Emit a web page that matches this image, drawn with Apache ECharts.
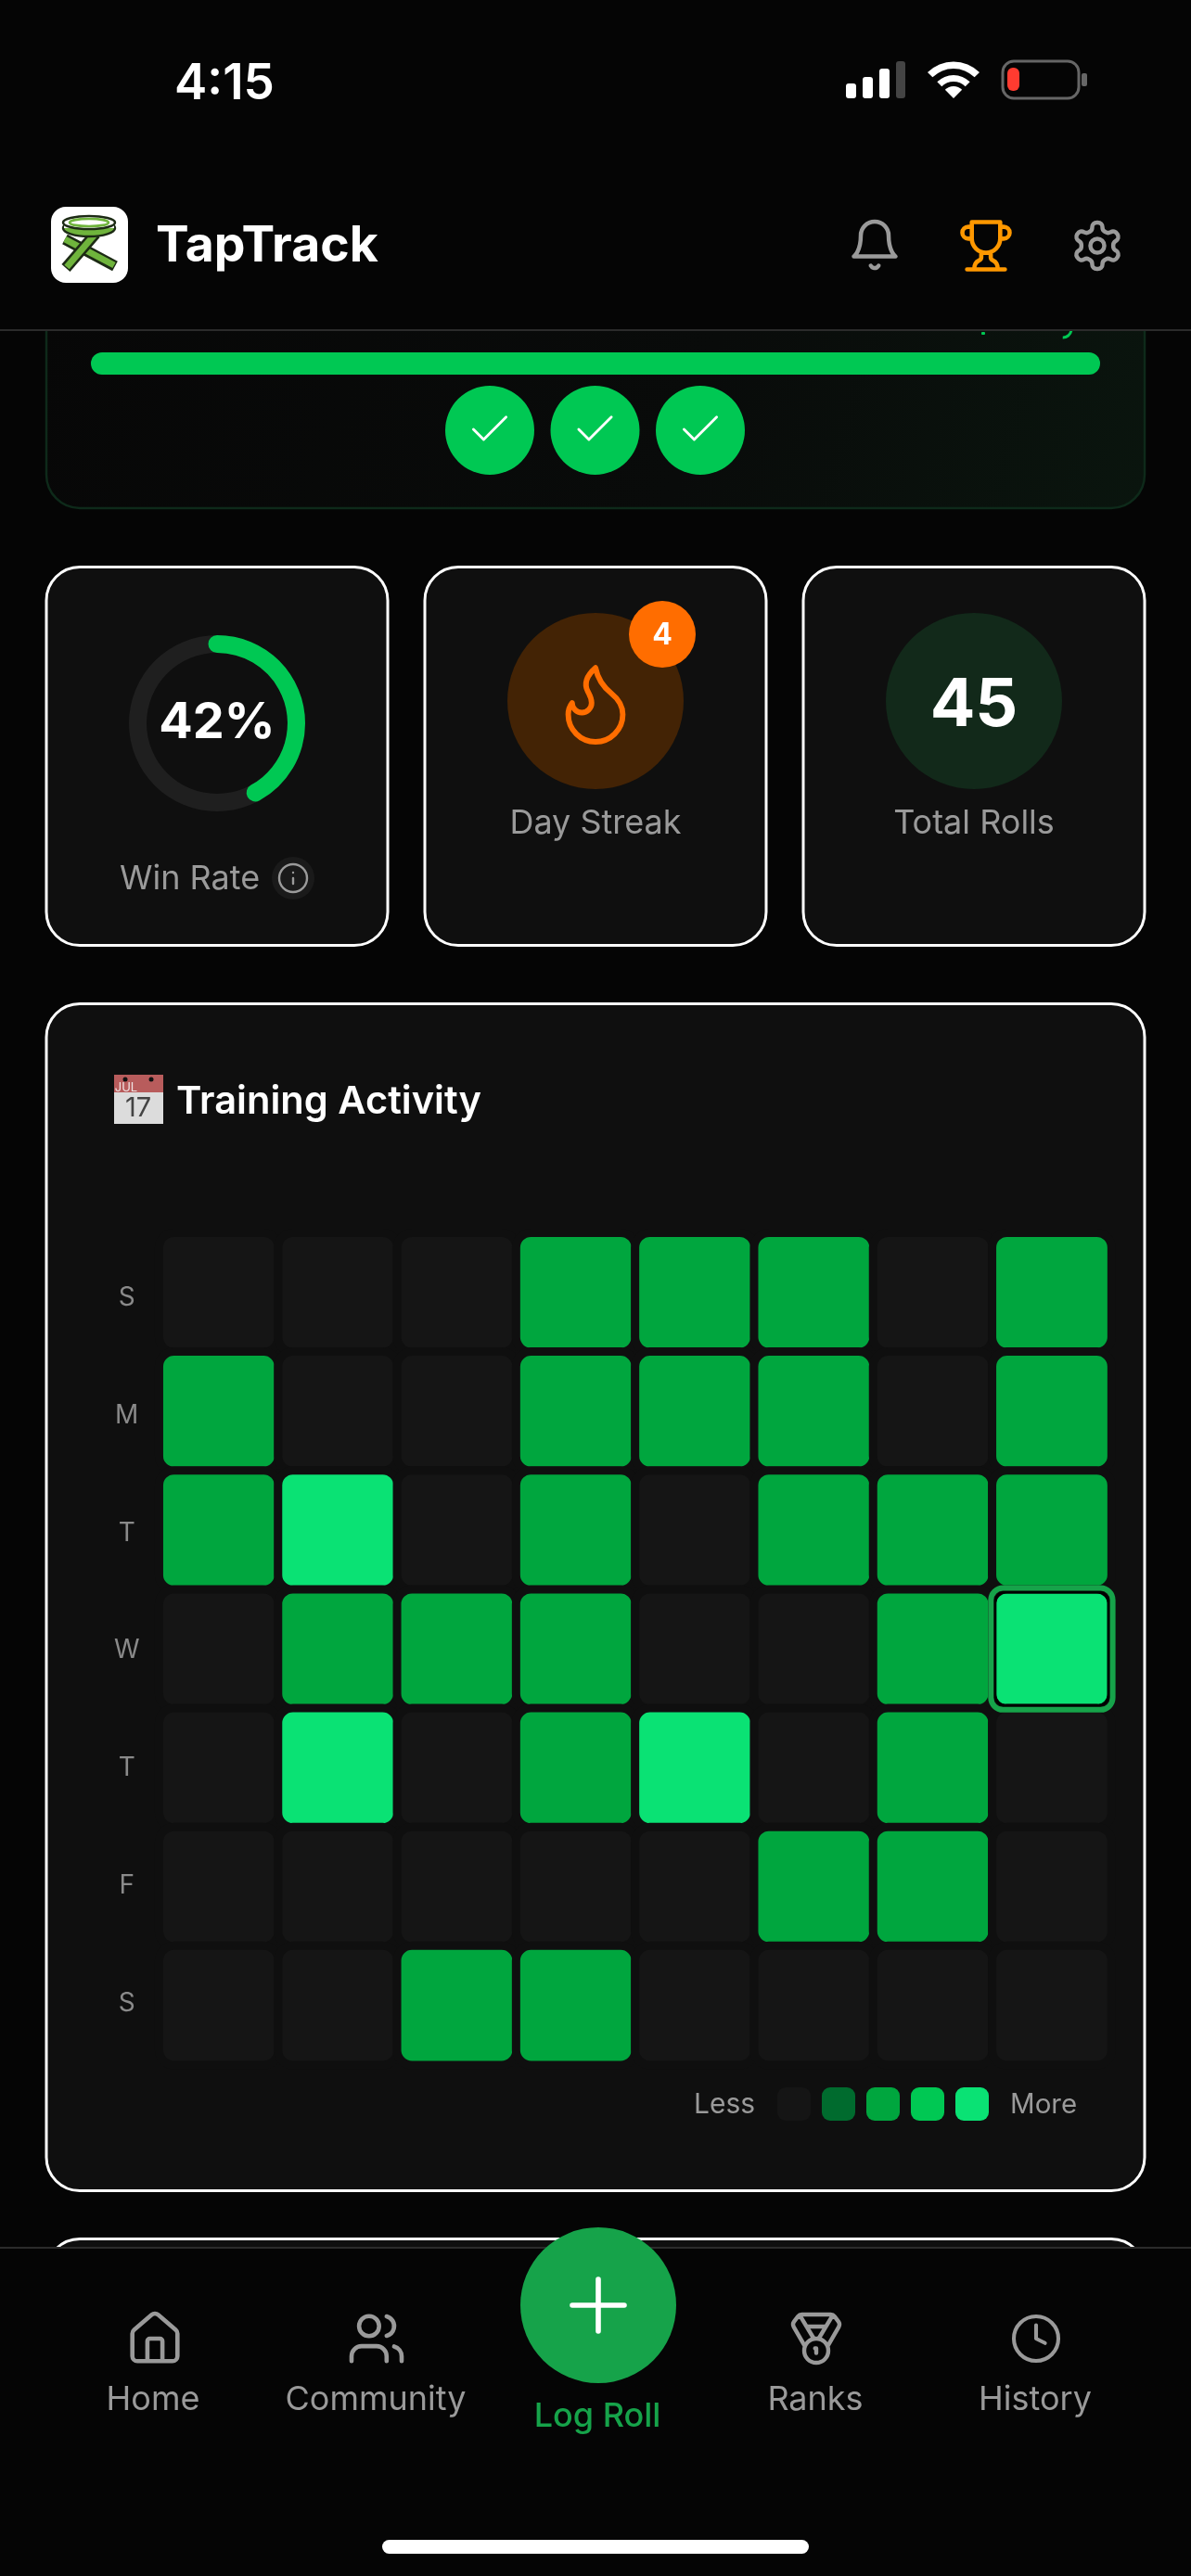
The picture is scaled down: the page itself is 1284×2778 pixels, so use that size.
<!DOCTYPE html>
<html>
<head>
<meta charset="utf-8">
<title>TapTrack</title>
<script src="https://cdn.jsdelivr.net/npm/echarts@6/dist/echarts.min.js"></script>
<style>
html, body { margin: 0; padding: 0; background: #050505; }
#main { width: 1284px; height: 2778px; }
</style>
</head>
<body>
<div id="main"></div>
<script>
// chart data
var dayLabels = ['S', 'M', 'T', 'W', 'T', 'F', 'S'];
var weekLabels = ['W1', 'W2', 'W3', 'W4', 'W5', 'W6', 'W7', 'W8'];
var rowSun1 = [0, 0, 0, 2, 2, 2, 0, 2];
var rowMon = [2, 0, 0, 2, 2, 2, 0, 2];
var rowTue = [2, 4, 0, 2, 0, 2, 2, 2];
var rowWed = [0, 2, 2, 2, 0, 0, 2, 4];
var rowThu = [0, 4, 0, 2, 4, 0, 2, 0];
var rowFri = [0, 0, 0, 0, 0, 2, 2, 0];
var rowSat = [0, 0, 2, 2, 0, 0, 0, 0];
var activityRows = [rowSun1, rowMon, rowTue, rowWed, rowThu, rowFri, rowSat];
var levelColors = ['#151515', '#006b2e', '#00a63e', '#00c853', '#0ae274'];
var todayCell = [7, 3];
var winRate = 42;
var dayStreak = 4;
var totalRolls = 45;
var checkCount = 3;
var navLabels = ['Home', 'Community', 'Ranks', 'History'];

var GREY = '#9a9a9a';
var FONT = 'Inter, sans-serif';

// lucide style icons, 24x24 box
var iconPaths = {
    bell: 'M6 8a6 6 0 0 1 12 0c0 7 3 9 3 9H3s3-2 3-9M10.3 21a1.94 1.94 0 0 0 3.4 0',
    trophy: 'M6 9H4.5a2.5 2.5 0 0 1 0-5H6M18 9h1.5a2.5 2.5 0 0 0 0-5H18M4 22h16M10 14.66V17c0 .55-.47.98-.97 1.21C7.85 18.75 7 20.24 7 22M14 14.66V17c0 .55.47.98.97 1.21C16.15 18.75 17 20.24 17 22M18 2H6v7a6 6 0 0 0 12 0V2Z',
    gear: 'M12.22 2h-.44a2 2 0 0 0-2 2v.18a2 2 0 0 1-1 1.73l-.43.25a2 2 0 0 1-2 0l-.15-.08a2 2 0 0 0-2.73.73l-.22.38a2 2 0 0 0 .73 2.73l.15.1a2 2 0 0 1 1 1.72v.51a2 2 0 0 1-1 1.74l-.15.09a2 2 0 0 0-.73 2.73l.22.38a2 2 0 0 0 2.73.73l.15-.08a2 2 0 0 1 2 0l.43.25a2 2 0 0 1 1 1.73V20a2 2 0 0 0 2 2h.44a2 2 0 0 0 2-2v-.18a2 2 0 0 1 1-1.73l.43-.25a2 2 0 0 1 2 0l.15.08a2 2 0 0 0 2.73-.73l.22-.39a2 2 0 0 0-.73-2.73l-.15-.08a2 2 0 0 1-1-1.74v-.5a2 2 0 0 1 1-1.74l.15-.09a2 2 0 0 0 .73-2.73l-.22-.38a2 2 0 0 0-2.73-.73l-.15.08a2 2 0 0 1-2 0l-.43-.25a2 2 0 0 1-1-1.73V4a2 2 0 0 0-2-2zM15 12a3 3 0 1 1-6 0a3 3 0 1 1 6 0z',
    flame: 'M8.5 14.5A2.5 2.5 0 0 0 11 12c0-1.38-.5-2-1-3-1.072-2.143-.224-4.054 2-6 .5 2.5 2 4.9 4 6.5 2 1.6 3 3.5 3 5.5a7 7 0 1 1-14 0c0-1.153.433-2.294 1-3a2.5 2.5 0 0 0 2.5 2.5z',
    home: 'M15 21v-8a1 1 0 0 0-1-1h-4a1 1 0 0 0-1 1v8M3 10a2 2 0 0 1 .709-1.528l7-5.999a2 2 0 0 1 2.582 0l7 5.999A2 2 0 0 1 21 10v9a2 2 0 0 1-2 2H5a2 2 0 0 1-2-2z',
    users: 'M16 21v-2a4 4 0 0 0-4-4H6a4 4 0 0 0-4 4v2M13 7a4 4 0 1 1-8 0a4 4 0 1 1 8 0zM22 21v-2a4 4 0 0 0-3-3.87M16 3.13a4 4 0 0 1 0 7.75',
    medal: 'M7.21 15 2.66 7.14a2 2 0 0 1 .13-2.2L4.4 2.8A2 2 0 0 1 6 2h12a2 2 0 0 1 1.6.8l1.6 2.14a2 2 0 0 1 .14 2.2L16.79 15M11 12 5.12 2.2M13 12l5.88-9.8M8 7h8M17 17a5 5 0 1 1-10 0a5 5 0 1 1 10 0zM12 18v-2h-.5',
    clock: 'M22 12a10 10 0 1 1-20 0a10 10 0 1 1 20 0zM12 6v6l4 2',
    info: 'M22 12a10 10 0 1 1-20 0a10 10 0 1 1 20 0zM12 16v-4M12 8h.01',
    check: 'M20 6 9 17l-5-5',
    plus: 'M5 12h14M12 5v14'
};
for (var name in iconPaths) {
    echarts.graphic.registerShape('icon_' + name, echarts.graphic.extendPath(iconPaths[name], {}));
}

function rr(x, y, w, h, r, fill, stroke, lw) {
    return { type: 'rect', shape: { x: x, y: y, width: w, height: h, r: r }, style: { fill: fill || 'none', stroke: stroke || null, lineWidth: lw || 0 }, silent: true };
}
function circle(cx, cy, r, fill) {
    return { type: 'circle', shape: { cx: cx, cy: cy, r: r }, style: { fill: fill }, silent: true };
}
function txt(x, y, s, size, weight, color, align) {
    return { type: 'text', x: x, y: y, silent: true, style: { text: s, fill: color, font: weight + ' ' + size + 'px ' + FONT, align: align || 'center', verticalAlign: 'middle' } };
}
function icon(name, cx, cy, scale, color, lw) {
    return {
        type: 'icon_' + name, x: cx - 12 * scale, y: cy - 12 * scale, scaleX: scale, scaleY: scale, silent: true,
        style: { fill: 'none', stroke: color, lineWidth: lw, lineCap: 'round', lineJoin: 'round' }
    };
}
function line(x1, y1, x2, y2, color, lw) {
    return { type: 'line', shape: { x1: x1, y1: y1, x2: x2, y2: y2 }, style: { stroke: color, lineWidth: lw, lineCap: 'butt' }, silent: true };
}
function wifiBand(r0, r) {
    return { type: 'sector', shape: { cx: 1028, cy: 106, r0: r0, r: r, startAngle: -Math.PI * 0.75, endAngle: -Math.PI * 0.25 }, style: { fill: '#fff' }, silent: true };
}

function cards() {
    var g = [];
    // goal card, its top is hidden under the header
    g.push(rr(50, 200, 1184, 348, 36, new echarts.graphic.LinearGradient(0, 0, 1, 1, [
        { offset: 0, color: '#070707' }, { offset: 0.6, color: '#090b0a' }, { offset: 1, color: '#0a150e' }
    ]), '#0e2a1a', 2.5));
    g.push(rr(98, 380, 1088, 24, 12, '#00c853'));
    // clipped descenders of the line above the bar
    g.push(rr(1058, 358, 4, 3, 1, '#00c853'));
    g.push({ type: 'arc', shape: { cx: 1146, cy: 355, r: 9, startAngle: 0.2, endAngle: 1.6, clockwise: true }, style: { stroke: '#00c853', fill: 'none', lineWidth: 3 }, silent: true });
    for (var i = 0; i < checkCount; i++) {
        var cx = 528 + i * 113.5;
        g.push(circle(cx, 464, 48, '#00c853'));
        g.push(icon('check', cx, 463, 2.2, '#fff', 1.3));
    }
    // stat cards
    [50, 458, 866].forEach(function (x) {
        g.push(rr(x, 611.5, 368, 408, 36, '#0f0f0f', '#fff', 3));
    });
    g.push(txt(129, 948, 'Win Rate', 36, 400, GREY, 'left'));
    g.push(circle(316, 947, 23, '#1a1a1a'));
    g.push(icon('info', 316, 947, 1.5, GREY, 1.6));

    g.push(circle(642, 756, 95, '#432305'));
    g.push(icon('flame', 642, 758, 4.2, '#ff6d00', 1.4));
    g.push(circle(714, 684, 36, '#ff6d00'));
    g.push(txt(714, 685, String(dayStreak), 32, 700, '#fff'));
    g.push(txt(642, 888, 'Day Streak', 36, 400, GREY));

    g.push(circle(1050, 756, 95, '#12291a'));
    g.push(txt(1050, 761, String(totalRolls), 72, 700, '#fff'));
    g.push(txt(1050, 888, 'Total Rolls', 36, 400, GREY));

    // activity card
    g.push(rr(50, 1082.5, 1184, 1280, 36, '#0f0f0f', '#fff', 3));
    g.push(rr(123, 1159, 53, 19, 0, '#b85c5c'));
    g.push(rr(123, 1178, 53, 34, 0, '#dcdcdc'));
    g.push(circle(135, 1164, 2.5, '#111'));
    g.push(circle(163, 1164, 2.5, '#111'));
    g.push(txt(136, 1173, 'JUL', 13, 400, '#f0e4e4'));
    g.push(txt(149, 1195, '17', 29, 400, '#444'));
    g.push(txt(190, 1188, 'Training Activity', 41.6, 600, '#fff', 'left'));
    // legend end labels
    g.push(txt(748, 2270, 'Less', 30, 400, GREY, 'left'));
    g.push(txt(1089, 2270, 'More', 29.5, 400, GREY, 'left'));
    // next card peeking out above the tab bar
    g.push(rr(50, 2414.5, 1184, 200, 36, '#0f0f0f', '#fff', 3));
    return g;
}

function header() {
    var g = [];
    g.push(rr(0, 0, 1284, 355, 0, '#050505'));
    g.push(rr(0, 355, 1284, 2, 0, '#2b2b2b'));
    g.push(txt(188, 91, '4:15', 53, 600, '#fff', 'left'));
    // signal
    g.push(rr(912, 90, 11, 16, 3, '#fff'));
    g.push(rr(930, 83, 11, 23, 3, '#fff'));
    g.push(rr(948, 74, 11, 32, 3, '#fff'));
    g.push(rr(966, 66, 10, 40, 3, '#444'));
    // wifi
    g.push(wifiBand(0, 13), wifiBand(18, 25), wifiBand(32, 39.6));
    // battery
    g.push(rr(1081, 66, 82, 40, 12, 'none', '#666', 3));
    g.push(rr(1086, 73, 13, 25, 6, '#ff3b30'));
    g.push(rr(1166, 79, 6, 14, 2, '#666'));
    // logo
    g.push(rr(55, 223, 83, 82, 16, '#fff'));
    g.push(line(70, 258, 124, 287, '#1c2a14', 12));
    g.push(line(70, 258, 123, 286, '#6fb43c', 7));
    g.push(line(103, 252, 71, 289, '#1c2a14', 12));
    g.push(line(102, 253, 72, 288, '#6fb43c', 7));
    g.push({ type: 'ellipse', shape: { cx: 96, cy: 246, rx: 28, ry: 9 }, style: { fill: '#6fb43c', stroke: '#1c2a14', lineWidth: 2.5 }, silent: true });
    g.push(rr(69, 239, 54, 7, 0, '#f4f4f4'));
    g.push({ type: 'ellipse', shape: { cx: 96, cy: 240, rx: 28, ry: 7 }, style: { fill: '#fff', stroke: '#1c2a14', lineWidth: 2.5 }, silent: true });
    g.push({ type: 'ellipse', shape: { cx: 96, cy: 240, rx: 21, ry: 4 }, style: { fill: 'none', stroke: '#6fb43c', lineWidth: 2.5 }, silent: true });
    g.push(txt(168, 266, 'TapTrack', 53.5, 700, '#fff', 'left'));
    g.push(icon('bell', 943, 264, 2.5, GREY, 1.8));
    g.push(icon('trophy', 1063, 265, 2.55, '#ff9800', 1.8));
    g.push(icon('gear', 1183, 265, 2.5, GREY, 1.8));
    return g;
}

function tabBar() {
    var g = [];
    g.push(rr(0, 2424, 1284, 354, 0, '#050505'));
    g.push(rr(0, 2423, 1284, 2, 0, '#2b2b2b'));
    var navIcons = ['home', 'users', 'medal', 'clock'];
    var navX = [167, 406, 880, 1117];
    var navScale = [2.7, 2.7, 2.6, 2.4];
    for (var i = 0; i < navLabels.length; i++) {
        g.push(icon(navIcons[i], navX[i], 2522, navScale[i], GREY, 1.7));
        g.push(txt(navX[i] - 2 + (i > 0 ? 1 : 0), 2588, navLabels[i], 36, 400, GREY));
    }
    g.push(circle(645, 2486, 84, '#16a34a'));
    g.push(icon('plus', 645, 2486, 4, '#fff', 1.4));
    g.push(txt(644, 2606, 'Log Roll', 36, 500, '#16a34a'));
    g.push(rr(412, 2739, 460, 15, 7.5, '#fff'));
    return g;
}

function heatData() {
    var list = [];
    activityRows.forEach(function (row, y) {
        row.forEach(function (v, x) {
            list.push([x, y, v]);
        });
    });
    return list;
}

var myChart = echarts.init(document.getElementById('main'), null, { renderer: 'canvas', width: 1284, height: 2778 });
var Option = {
    backgroundColor: '#050505',
    animation: false,
    graphic: { elements: cards().concat(header(), tabBar()) },
    // second grid only carries the day letters, they sit a little tighter than the rows
    grid: [
        { left: 171.7, top: 1329.7, width: 1026.4, height: 897 },
        { left: 171.7, top: 1336.1, width: 10, height: 887.8 }
    ],
    xAxis: [{
        type: 'category', data: weekLabels,
        axisLine: { show: false }, axisTick: { show: false }, axisLabel: { show: false }, splitLine: { show: false }
    }, {
        type: 'category', gridIndex: 1, data: ['W'], show: false
    }],
    yAxis: [{
        type: 'category', data: dayLabels, inverse: true,
        axisLine: { show: false }, axisTick: { show: false }, axisLabel: { show: false }, splitLine: { show: false }
    }, {
        type: 'category', gridIndex: 1, data: dayLabels, inverse: true,
        axisLine: { show: false }, axisTick: { show: false }, splitLine: { show: false },
        axisLabel: { interval: 0, margin: 35, align: 'center', color: '#8a8a8a', fontSize: 28, fontFamily: FONT }
    }],
    visualMap: {
        type: 'piecewise', seriesIndex: 1, orient: 'horizontal', selectedMode: false, showLabel: false,
        left: 823, top: 2236,
        itemWidth: 36, itemHeight: 36, itemGap: 12, itemSymbol: 'roundRect',
        pieces: levelColors.map(function (c, i) { return { value: i, color: c }; })
    },
    series: [{
        type: 'gauge', silent: true,
        center: [234, 780], radius: 95,
        min: 0, max: 100, startAngle: 90, endAngle: -270,
        axisLine: { lineStyle: { width: 19, color: [[1, '#1f1f1f']] } },
        progress: { show: true, roundCap: true, width: 19, itemStyle: { color: '#00c853' } },
        pointer: { show: false }, axisTick: { show: false }, splitLine: { show: false }, axisLabel: { show: false },
        title: { show: false },
        detail: { offsetCenter: [0, 0], formatter: '{value}%', color: '#fff', fontSize: 54, fontWeight: 700, fontFamily: FONT },
        data: [{ value: winRate }]
    }, {
        type: 'heatmap', silent: true,
        data: heatData(),
        itemStyle: { borderColor: '#0f0f0f', borderWidth: 9, borderRadius: 16 },
        emphasis: { disabled: true }
    }, {
        // outline round the current day
        type: 'custom', silent: true, z: 5,
        data: [todayCell],
        encode: { x: 0, y: 1 },
        renderItem: function (params, api) {
            var c = api.coord([api.value(0), api.value(1)]);
            var half = api.size([1, 1])[0] / 2 - 4.5;
            return {
                type: 'group',
                children: [
                    { type: 'rect', shape: { x: c[0] - half - 1.5, y: c[1] - half - 1.5, width: half * 2 + 3, height: half * 2 + 3, r: 11 }, style: { fill: 'none', stroke: '#000', lineWidth: 3 } },
                    { type: 'rect', shape: { x: c[0] - half - 6, y: c[1] - half - 6, width: half * 2 + 12, height: half * 2 + 12, r: 13 }, style: { fill: 'none', stroke: '#16a34a', lineWidth: 6 } }
                ]
            };
        }
    }]
};
myChart.setOption(Option);
</script>
</body>
</html>
